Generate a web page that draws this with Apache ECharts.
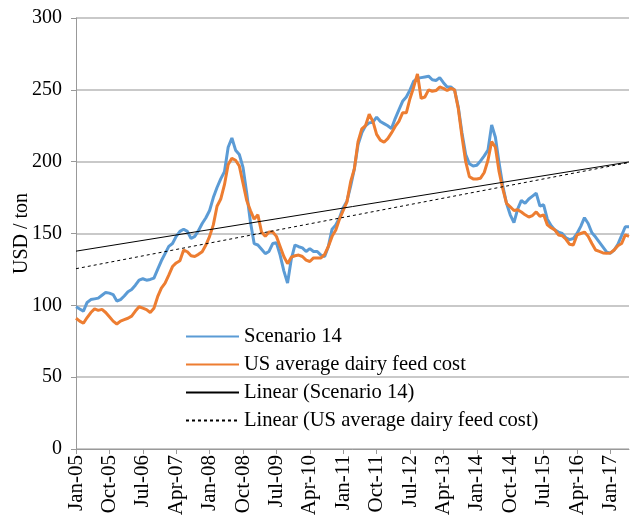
<!DOCTYPE html>
<html>
<head>
<meta charset="utf-8">
<script src="https://cdn.jsdelivr.net/npm/echarts@6/dist/echarts.min.js"></script>
<style>
  html, body { margin: 0; padding: 0; background: #fff; }
  #chart { width: 630px; height: 519px; }
</style>
</head>
<body>
<div id="chart"></div>
<script>
// --- data (monthly, Jan-05 .. Jun-17) ---
const monthNames = ['Jan', 'Feb', 'Mar', 'Apr', 'May', 'Jun', 'Jul', 'Aug', 'Sep', 'Oct', 'Nov', 'Dec'];
const firstYear = 2005;
const monthCount = 150;

const scenario14 = [
  99, 97.5, 96, 102, 104, 104.5, 105, 107, 109, 108.5, 107.5, 103,
  104, 106.5, 109.5, 111, 114, 117.6, 118.5, 117.5, 118, 119, 125, 131,
  136, 141, 143, 148, 151.5, 153, 151.5, 146.5, 148, 152, 157, 161,
  166, 175, 182, 188, 193, 210, 216.5, 208, 205, 196, 178, 158,
  143, 142, 139, 136, 137.5, 143, 143.5, 135, 124, 115.5, 132, 142,
  140.8, 140, 137.5, 139.5, 137.5, 137.5, 135, 134, 141, 153, 156, 161,
  168, 172.5, 183, 195, 212, 220, 225, 227, 227.5, 231, 228, 226.5,
  225, 223, 230, 236, 242, 245, 250, 256, 258, 258.5, 259, 259.5,
  257, 256.5, 258.5, 255, 252, 252, 250, 238, 220, 205, 198.5, 197,
  197.5, 200.5, 204, 208, 225.5, 217, 199, 183, 171, 163, 157.5, 167,
  173, 171, 174, 176, 178, 169, 170, 160, 155.5, 152.5, 151, 150,
  147, 145.7, 146.5, 150, 155, 161, 157, 150.5, 147.5, 144, 140.5, 137,
  136.3, 138.5, 142.5, 148.5, 154.7, 154.7
];

const usFeedCost = [
  91, 89, 87.5, 91.5, 95, 97.5, 96.5, 97.2, 95, 92, 89, 87,
  89, 90, 91, 92.5, 96, 99, 98, 97, 95, 98, 106, 112,
  115.5, 121, 127, 129.5, 131, 138.5, 137.3, 134.5, 134, 135.5, 137.3, 142,
  148, 156, 169, 174, 184, 198, 202.3, 201, 197, 185, 173, 166,
  160, 163, 151, 148, 151, 151, 148, 141, 134, 129, 133.5, 134.5,
  135, 134, 131.5, 130.5, 133, 133, 133, 135.5, 141, 148, 152.5, 160,
  166, 172, 186, 195, 214, 222.8, 225, 233, 228, 219, 215, 213.5,
  216, 220, 224.5, 228, 234, 234, 244, 252, 261, 244, 245, 250,
  249, 249.5, 252, 251, 249.5, 251, 250, 237, 217.5, 200, 189.5, 188,
  188, 188.5, 192.5, 201, 214, 210, 193, 181, 171, 168.6, 166, 166.5,
  165, 163, 161.5, 162.5, 165, 162, 163, 156, 154, 152.5, 149, 148.5,
  146, 142.5, 142, 149, 150, 151, 148, 143, 138.5, 137.5, 136.5, 136.3,
  136.5, 138.5, 141.5, 143, 149, 148
];

// linear trend lines, start / end values
const trendScenario14 = [137.7, 199.8];
const trendUsFeedCost = [125.5, 199.4];

const yTicks = [0, 50, 100, 150, 200, 250, 300];

// --- build categories and trend series ---
const categories = [];
for (let i = 0; i < monthCount; i++) {
  const y = firstYear + Math.floor(i / 12);
  categories.push(monthNames[i % 12] + '-' + String(y % 100).padStart(2, '0'));
}

const endpoints = (pair) => {
  const arr = new Array(monthCount).fill(null);
  arr[0] = pair[0];
  arr[monthCount - 1] = pair[1];
  return arr;
};

const FONT = '"Liberation Serif", "Times New Roman", serif';
const GRID_COLOR = '#b7b7b7';

const chart = echarts.init(document.getElementById('chart'), null, { renderer: 'canvas' });

chart.setOption({
  animation: false,
  backgroundColor: '#fff',
  textStyle: { fontFamily: FONT },
  grid: { left: 76, right: 1, top: 18, bottom: 70, containLabel: false, outerBoundsMode: 'none' },
  legend: {
    orient: 'vertical',
    left: 185,
    top: 326,
    padding: 0,
    itemWidth: 53,
    itemHeight: 14,
    itemGap: 7,
    itemStyle: { opacity: 0 },
    textStyle: { fontFamily: FONT, fontSize: 20.6, color: '#000', lineHeight: 20 },
    data: ['Scenario 14', 'US average dairy feed cost', 'Linear (Scenario 14)', 'Linear (US average dairy feed cost)']
  },
  xAxis: {
    type: 'category',
    data: categories,
    boundaryGap: false,
    axisLine: { lineStyle: { color: '#999', width: 1 } },
    axisTick: { show: true, interval: 8, length: 5, lineStyle: { color: '#999' } },
    axisLabel: {
      interval: 8,
      rotate: 90,
      margin: 6,
      fontFamily: FONT,
      fontSize: 21,
      color: '#000'
    },
    splitLine: { show: false }
  },
  yAxis: {
    type: 'value',
    min: yTicks[0],
    max: yTicks[yTicks.length - 1],
    interval: 50,
    name: 'USD / ton',
    nameLocation: 'middle',
    nameGap: 44,
    nameMoveOverlap: false,
    nameTextStyle: { fontFamily: FONT, fontSize: 20, color: '#000' },
    axisLine: { show: true, lineStyle: { color: '#999', width: 1 } },
    axisTick: { show: true, length: 5, lineStyle: { color: '#999' } },
    axisLabel: { margin: 14, fontFamily: FONT, fontSize: 20, color: '#000' },
    splitLine: { lineStyle: { color: GRID_COLOR, width: 1.5 } }
  },
  series: [
    {
      name: 'Scenario 14',
      type: 'line',
      data: scenario14,
      showSymbol: false,
      symbol: 'none',
      lineStyle: { color: '#5B9BD5', width: 3 },
      itemStyle: { color: '#5B9BD5' }
    },
    {
      name: 'US average dairy feed cost',
      type: 'line',
      data: usFeedCost,
      showSymbol: false,
      symbol: 'none',
      lineStyle: { color: '#ED7D31', width: 3 },
      itemStyle: { color: '#ED7D31' }
    },
    {
      name: 'Linear (Scenario 14)',
      type: 'line',
      data: endpoints(trendScenario14),
      connectNulls: true,
      showSymbol: false,
      symbol: 'none',
      lineStyle: { color: '#000', width: 1 },
      itemStyle: { color: '#000' }
    },
    {
      name: 'Linear (US average dairy feed cost)',
      type: 'line',
      data: endpoints(trendUsFeedCost),
      connectNulls: true,
      showSymbol: false,
      symbol: 'none',
      lineStyle: { color: '#000', width: 1, type: [3, 3] },
      itemStyle: { color: '#000' }
    }
  ]
});
</script>
</body>
</html>
